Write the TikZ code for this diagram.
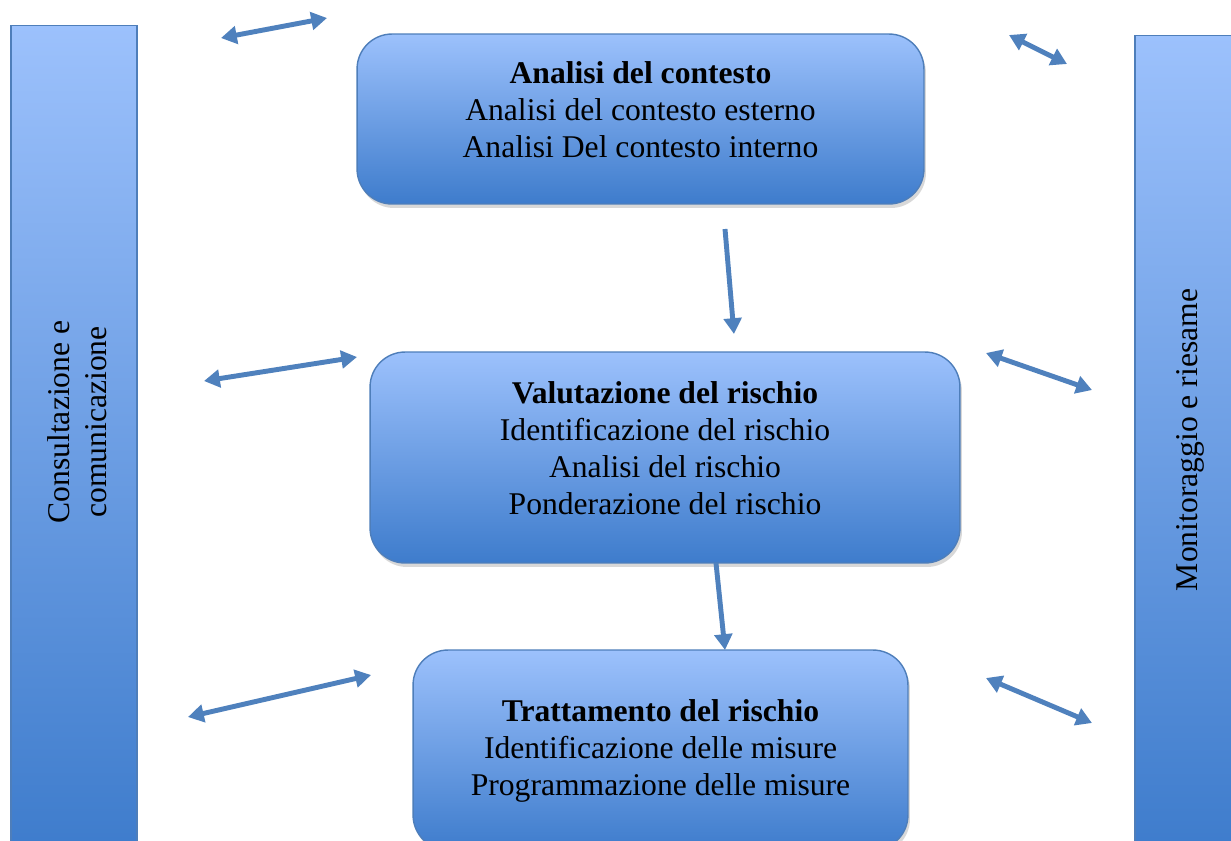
\documentclass[tikz,border=0pt]{standalone}
\usepackage{fontspec}
\setmainfont{Liberation Serif}
\usetikzlibrary{arrows.meta,shadows}

\definecolor{bleuclair}{RGB}{156,193,252}
\definecolor{bleufonce}{RGB}{62,124,204}
\definecolor{bleutrait}{RGB}{78,126,186}
\definecolor{bleufleche}{RGB}{79,129,189}

\tikzset{
  boite/.style={draw=bleutrait, line width=0.8pt, rounded corners=0.7cm,
    top color=bleuclair, bottom color=bleufonce,
    drop shadow={opacity=0.3, shadow xshift=0.04cm, shadow yshift=-0.08cm}},
  barre/.style={draw=bleutrait, line width=0.6pt, top color=bleuclair, bottom color=bleufonce},
  texte/.style={align=center, font=\fontsize{18}{21}\selectfont},
  fleche/.style={draw=bleufleche, line width=2.8pt,
    {Triangle[length=9pt,width=10pt]}-{Triangle[length=9pt,width=10pt]}},
  flechebas/.style={draw=bleufleche, line width=2.8pt, -{Triangle[length=9pt,width=10pt]}},
}

\begin{document}
\begin{tikzpicture}[x=0.02cm, y=-0.02cm]
    % Cadre de l'image
    \clip (0,0) rectangle (1231,840);
    \fill[white] (0,0) rectangle (1231,840);

    % Extrémités des flèches
    \coordinate (g1a) at (221,38);   \coordinate (g1b) at (327,18);
    \coordinate (g2a) at (204,381);  \coordinate (g2b) at (357,357);
    \coordinate (g3a) at (188,717);  \coordinate (g3b) at (371,675);
    \coordinate (d1a) at (1009,35);  \coordinate (d1b) at (1067,64);
    \coordinate (d2a) at (986,353);  \coordinate (d2b) at (1092,390);
    \coordinate (d3a) at (986,678);  \coordinate (d3b) at (1092,723);
    \coordinate (v1a) at (725,229);  \coordinate (v1b) at (734,334);
    \coordinate (v2a) at (716,563);  \coordinate (v2b) at (725,650);

    % Barres latérales
    \node[barre, minimum width=2.52cm, minimum height=16.5cm] (consult) at (74,437.5) {};
    \node[barre, minimum width=2.1cm, minimum height=16.3cm] (monit) at (1187.5,442.5) {};
    \node[texte, rotate=90] (tconsult) at (77,422) {Consultazione e\\comunicazione};
    \node[texte, rotate=90] (tmonit) at (1190,440) {Monitoraggio e riesame};

    % Les trois étapes
    \node[boite, minimum width=11.34cm, minimum height=3.4cm] (contesto) at (640.5,119) {};
    \node[boite, minimum width=11.8cm, minimum height=4.22cm] (valutazione) at (665,457.5) {};
    \node[boite, minimum width=9.9cm, minimum height=4cm] (trattamento) at (660.5,750) {};

    \node[texte] (tcontesto) at (640.5,109.5) {\textbf{Analisi del contesto}\\
      Analisi del contesto esterno\\Analisi Del contesto interno};
    \node[texte] (tvalutazione) at (665,448.5) {\textbf{Valutazione del rischio}\\
      Identificazione del rischio\\Analisi del rischio\\Ponderazione del rischio};
    \node[texte] (ttrattamento) at (660.5,751) {\textbf{Trattamento del rischio}\\
      Identificazione delle misure\\Programmazione delle misure};

    % Flèches
    \draw[fleche] (g1a) -- (g1b);
    \draw[fleche] (g2a) -- (g2b);
    \draw[fleche] (g3a) -- (g3b);
    \draw[fleche] (d1a) -- (d1b);
    \draw[fleche] (d2a) -- (d2b);
    \draw[fleche] (d3a) -- (d3b);
    \draw[flechebas] (v1a) -- (v1b);
    \draw[flechebas] (v2a) -- (v2b);
\end{tikzpicture}
\end{document}
